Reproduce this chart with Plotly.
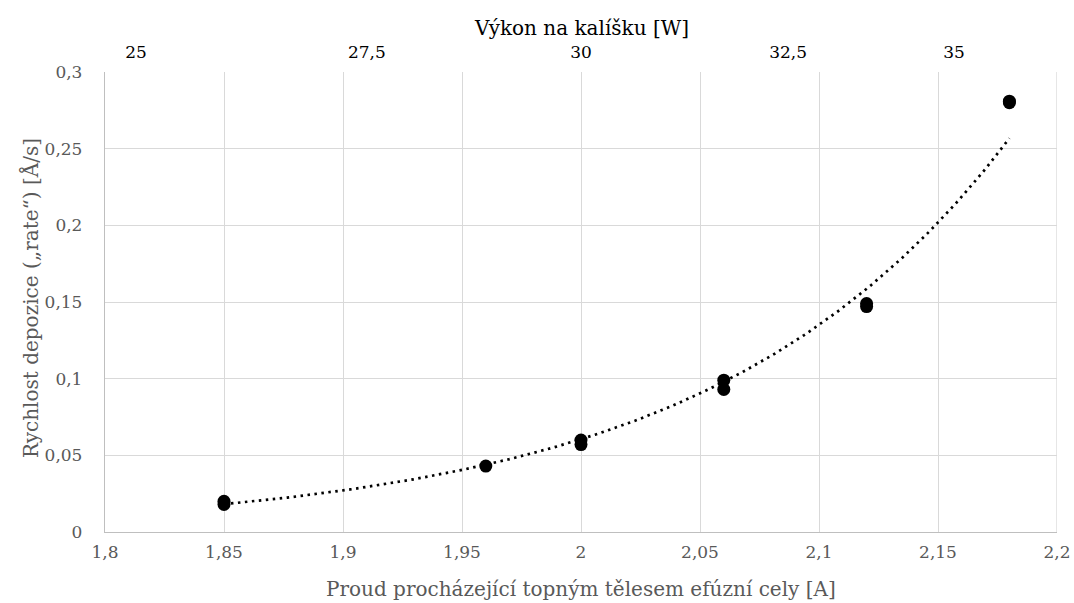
import numpy as np
import plotly.graph_objects as go

# Data
current_A = [1.85, 1.85, 1.96, 2.00, 2.00, 2.06, 2.06, 2.12, 2.12, 2.18, 2.18]
rate = [0.020, 0.018, 0.043, 0.060, 0.057, 0.099, 0.093, 0.149, 0.147, 0.281, 0.280]

x_ticks = [1.8, 1.85, 1.9, 1.95, 2.0, 2.05, 2.1, 2.15, 2.2]
x_ticktext = ["1,8", "1,85", "1,9", "1,95", "2", "2,05", "2,1", "2,15", "2,2"]
y_ticks = [0, 0.05, 0.1, 0.15, 0.2, 0.25, 0.3]
y_ticktext = ["0", "0,05", "0,1", "0,15", "0,2", "0,25", "0,3"]

# Secondary (top) axis: power labels at their positions on the current axis
power_pos = [1.813, 1.910, 2.000, 2.087, 2.1567]
power_text = ["25", "27,5", "30", "32,5", "35"]

# Exponential trendline (least-squares fit of ln y, as Excel does)
b, ln_a = np.polyfit(np.array(current_A), np.log(np.array(rate)), 1)
xt = np.linspace(min(current_A), max(current_A), 200)
yt = np.exp(ln_a) * np.exp(b * xt)

FONT = "DejaVu Serif"
GRAY = "#595959"
GRID = "#d9d9d9"

fig = go.Figure()
fig.add_trace(go.Scatter(
    x=xt, y=yt, mode="lines",
    line=dict(color="black", width=2.7, dash="2.5px,4.5px"),
    showlegend=False, hoverinfo="skip"))
fig.add_trace(go.Scatter(
    x=current_A, y=rate, mode="markers",
    marker=dict(color="black", size=13),
    showlegend=False))
fig.add_trace(go.Scatter(x=[None], y=[None], xaxis="x2", showlegend=False))

fig.update_layout(
    width=1074, height=603,
    margin=dict(l=105, r=17, t=72, b=71),
    paper_bgcolor="white", plot_bgcolor="white",
    font=dict(family=FONT, size=17, color=GRAY),
    xaxis=dict(
        range=[1.8, 2.2], tickvals=x_ticks, ticktext=x_ticktext,
        showgrid=True, gridcolor=GRID, gridwidth=1.3,
        showline=True, linecolor="#bfbfbf", linewidth=1.3, mirror=False,
        zeroline=False, ticks="outside", ticklen=4, tickcolor="rgba(0,0,0,0)",
        automargin=False, ticklabeloverflow="allow",
        tickfont=dict(family=FONT, size=17, color=GRAY),
    ),
    xaxis2=dict(
        range=[1.8, 2.2], overlaying="x", side="top",
        tickvals=power_pos, ticktext=power_text,
        showgrid=False, zeroline=False, showline=False,
        ticks="outside", ticklen=6, tickcolor="rgba(0,0,0,0)",
        automargin=False,
        tickfont=dict(family=FONT, size=17, color="black"),
    ),
    yaxis=dict(
        range=[0, 0.3], tickvals=y_ticks, ticktext=y_ticktext,
        showgrid=True, gridcolor=GRID, gridwidth=1.3,
        showline=True, linecolor="#bfbfbf", linewidth=1.3,
        zeroline=False, ticks="outside", ticklen=18, tickcolor="rgba(0,0,0,0)",
        automargin=False,
        tickfont=dict(family=FONT, size=17, color=GRAY),
    ),
)

# Axis titles
fig.add_annotation(text="Proud procházející topným tělesem efúzní cely [A]",
                   xref="paper", yref="paper", x=0.5, y=0, yshift=-57,
                   xanchor="center", yanchor="middle", showarrow=False,
                   font=dict(family=FONT, size=20, color=GRAY))
fig.add_annotation(text="Výkon na kalíšku [W]",
                   xref="paper", yref="paper", x=0.5, y=1, yshift=44,
                   xanchor="center", yanchor="middle", showarrow=False,
                   font=dict(family=FONT, size=20, color="black"))
fig.add_annotation(text="Rychlost depozice („rate“) [Å/s]",
                   xref="paper", yref="paper", x=0, y=0.5, xshift=-75, yshift=4,
                   xanchor="center", yanchor="middle", showarrow=False,
                   textangle=-90,
                   font=dict(family=FONT, size=20, color=GRAY))

# right border of plot area
fig.add_shape(type="line", xref="x", yref="paper", x0=2.2, x1=2.2, y0=0, y1=1,
              line=dict(color=GRID, width=1.3), layer="below")

fig.write_html("out.html", config={"displayModeBar": False},
               post_script="document.body.style.margin='0px';")
